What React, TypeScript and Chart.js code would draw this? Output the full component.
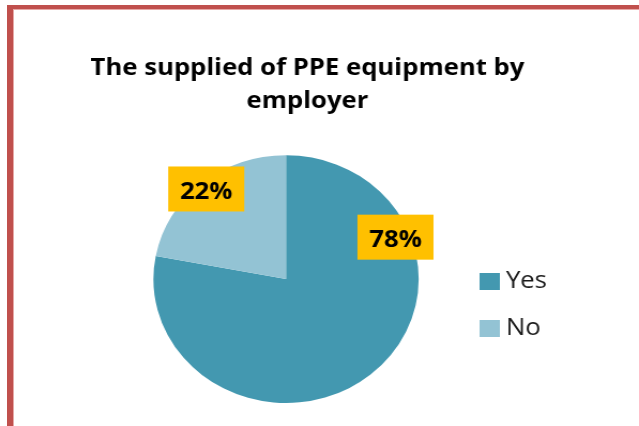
import React, { useEffect, useRef } from 'react';
import { Chart, registerables } from 'chart.js';

Chart.register(...registerables);

// ---- data ----
const categories = ['Yes', 'No'];
const values = [78, 22];
const valueLabels = ['78%', '22%'];
const sliceColors = ['#4398B0', '#93C3D4'];
const titleLines = ['The supplied of PPE equipment by', 'employer'];

// the reference picture is stretched horizontally
const CW = 597;
const CH = 426;
const STRETCH = 639 / CW;

function swatch(color: string) {
  const c = document.createElement('canvas');
  c.width = 19;
  c.height = 17;
  const g = c.getContext('2d')!;
  g.fillStyle = color;
  g.fillRect(0, 0, 19, 17);
  return c;
}

const boxLabels = {
  id: 'boxLabels',
  afterDatasetsDraw(chart: any, _args: any, opts: any) {
    const meta = chart.getDatasetMeta(0);
    const ctx = chart.ctx;
    ctx.save();
    ctx.font = `bold ${opts.size}px "Open Sans"`;
    meta.data.forEach((arc: any, i: number) => {
      const p = arc.getProps(['x', 'y', 'outerRadius', 'startAngle', 'endAngle'], true);
      const ang = opts.angles[i] != null ? ((opts.angles[i] - 90) * Math.PI) / 180 : (p.startAngle + p.endAngle) / 2;
      const r = p.outerRadius * opts.radii[i];
      const cx = p.x + Math.cos(ang) * r;
      const cy = p.y + Math.sin(ang) * r;
      const text = opts.texts[i];
      const w = ctx.measureText(text).width + opts.padX * 2;
      const h = opts.boxH;
      ctx.fillStyle = opts.bg;
      ctx.fillRect(cx - w / 2, cy - h / 2, w, h);
      ctx.fillStyle = opts.color;
      ctx.textAlign = 'center';
      ctx.textBaseline = 'alphabetic';
      ctx.fillText(text, cx, cy + opts.baselineOffset);
    });
    ctx.restore();
  },
};

export default function App() {
  const ref = useRef<HTMLCanvasElement>(null);

  useEffect(() => {
    if (!ref.current) return;
    Chart.defaults.font.family = '"Open Sans", sans-serif';
    const swatches = sliceColors.map(swatch);
    const chart = new Chart(ref.current, {
      type: 'pie',
      data: {
        labels: categories,
        datasets: [
          {
            data: values,
            backgroundColor: sliceColors,
            borderWidth: 0,
          },
        ],
      },
      plugins: [boxLabels],
      options: {
        responsive: false,
        animation: false,
        layout: { padding: { top: 0, bottom: 23, left: 53.5, right: 76 } },
        plugins: {
          tooltip: { enabled: false },
          title: {
            display: true,
            text: titleLines,
            color: '#000',
            font: { size: 24, weight: 'bold', lineHeight: 1.4 },
            padding: { top: 51, bottom: 37 },
          },
          subtitle: {
            display: true,
            position: 'left',
            fullSize: false,
            text: '',
            font: { size: 10, lineHeight: 1 },
            padding: { top: 39.3, bottom: 0 },
          },
          legend: {
            position: 'right',
            fullSize: false,
            title: { display: true, text: '', padding: { top: 37.4, bottom: 0 }, font: { size: 12, lineHeight: 1.2 } },
            labels: {
              usePointStyle: true,
              boxWidth: 6,
              padding: 23,
              color: '#1a1a1a',
              font: { size: 24 },
              generateLabels: (ch: any) =>
                ch.data.labels.map((label: string, i: number) => ({
                  text: label,
                  fillStyle: sliceColors[i],
                  strokeStyle: sliceColors[i],
                  fontColor: '#1a1a1a',
                  lineWidth: 0,
                  pointStyle: swatches[i],
                  hidden: false,
                  index: i,
                })),
            },
          },
          boxLabels: {
            texts: valueLabels,
            angles: [67.7, null],
            radii: [0.892, 0.944],
            size: 24,
            padX: 11,
            boxH: 45,
            baselineOffset: 10,
            bg: '#FFC000',
            color: '#000',
          },
        } as any,
      },
    });
    return () => chart.destroy();
  }, []);

  return (
    <div style={{ position: 'absolute', left: 0, top: 0, width: 639, height: 426, overflow: 'hidden', background: '#fff' }}>
      <canvas
        ref={ref}
        width={CW}
        height={CH}
        style={{
          position: 'absolute',
          left: 0,
          top: 0,
          width: CW + 'px',
          height: CH + 'px',
          transform: `scaleX(${STRETCH})`,
          transformOrigin: '0 0',
        }}
      />
      <div style={{ position: 'absolute', left: 7, top: 5, width: 6, height: 421, background: '#C0504D' }} />
      <div style={{ position: 'absolute', left: 13, top: 9, width: 1, height: 417, background: '#E6A9A7' }} />
      <div style={{ position: 'absolute', left: 7, top: 5, width: 632, height: 4, background: '#C0504D' }} />
      <div style={{ position: 'absolute', left: 13, top: 9, width: 626, height: 1, background: '#E6A9A7' }} />
    </div>
  );
}
